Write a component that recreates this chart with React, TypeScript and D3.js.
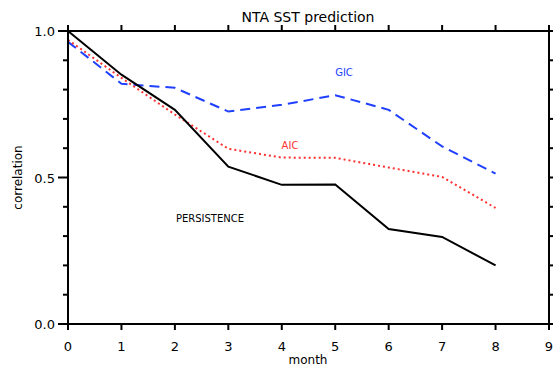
import React, { useEffect, useRef } from 'react';
import * as d3 from 'd3';

const months = [0, 1, 2, 3, 4, 5, 6, 7, 8];
const persistence = [1.0, 0.851, 0.731, 0.537, 0.475, 0.476, 0.324, 0.297, 0.2];
const gic = [0.963, 0.82, 0.806, 0.725, 0.748, 0.781, 0.731, 0.606, 0.513];
const aic = [0.97, 0.84, 0.715, 0.598, 0.568, 0.567, 0.534, 0.502, 0.396];
const xTicks = [0, 1, 2, 3, 4, 5, 6, 7, 8, 9];
const yMajor = [0, 0.5, 1.0];
const yMinor = d3.range(0, 1.01, 0.1);

const FONT = '"DejaVu Sans", sans-serif';

const App: React.FC = () => {
  const svgRef = useRef<SVGSVGElement>(null);

  useEffect(() => {
    if (!svgRef.current) return;
    const svg = d3.select(svgRef.current);
    svg.selectAll('*').remove();

    const left = 68, right = 549, top = 31, bottom = 324;
    const x = d3.scaleLinear().domain([0, 9]).range([left, right]);
    const y = d3.scaleLinear().domain([0, 1]).range([bottom, top]);

    // series
    const line = (vals: number[]) =>
      d3.line<number>().x((_, i) => x(months[i])).y(d => y(d))(vals) as string;

    svg.append('path').attr('d', line(gic)).attr('fill', 'none')
      .attr('stroke', '#2040ff').attr('stroke-width', 2).attr('stroke-dasharray', '10,6');
    svg.append('path').attr('d', line(aic)).attr('fill', 'none')
      .attr('stroke', '#ff3030').attr('stroke-width', 2).attr('stroke-dasharray', '2,3');
    svg.append('path').attr('d', line(persistence)).attr('fill', 'none')
      .attr('stroke', '#000').attr('stroke-width', 2);

    // frame
    svg.append('rect').attr('x', left).attr('y', top).attr('width', right - left).attr('height', bottom - top)
      .attr('fill', 'none').attr('stroke', '#000').attr('stroke-width', 2);

    // x ticks, top and bottom, outward
    xTicks.forEach(t => {
      svg.append('line').attr('x1', x(t)).attr('x2', x(t)).attr('y1', bottom).attr('y2', bottom + 6)
        .attr('stroke', '#000').attr('stroke-width', 2);
      svg.append('line').attr('x1', x(t)).attr('x2', x(t)).attr('y1', top).attr('y2', top - 6)
        .attr('stroke', '#000').attr('stroke-width', 2);
      svg.append('text').attr('x', x(t)).attr('y', bottom + 27).attr('text-anchor', 'middle')
        .attr('font-family', FONT).attr('font-size', 13).text(t);
    });

    // y ticks, left and right
    yMinor.forEach(t => {
      const major = yMajor.some(m => Math.abs(m - t) < 1e-6);
      const len = major ? 10 : 5;
      svg.append('line').attr('x1', left).attr('x2', left - len).attr('y1', y(t)).attr('y2', y(t))
        .attr('stroke', '#000').attr('stroke-width', 2);
      svg.append('line').attr('x1', right).attr('x2', right + len).attr('y1', y(t)).attr('y2', y(t))
        .attr('stroke', '#000').attr('stroke-width', 2);
    });
    yMajor.forEach(t => {
      svg.append('text').attr('x', left - 13).attr('y', y(t) + 5).attr('text-anchor', 'end')
        .attr('font-family', FONT).attr('font-size', 13).text(t.toFixed(1));
    });

    // titles
    svg.append('text').attr('x', 308).attr('y', 22).attr('text-anchor', 'middle')
      .attr('font-family', FONT).attr('font-size', 14).text('NTA SST prediction');
    svg.append('text').attr('x', 308).attr('y', 364).attr('text-anchor', 'middle')
      .attr('font-family', FONT).attr('font-size', 12).text('month');
    svg.append('text').attr('transform', `translate(22,${(top + bottom) / 2}) rotate(-90)`)
      .attr('text-anchor', 'middle').attr('font-family', FONT).attr('font-size', 12).text('correlation');

    // series labels
    svg.append('text').attr('x', 344).attr('y', 76).attr('text-anchor', 'middle')
      .attr('font-family', FONT).attr('font-size', 10).attr('fill', '#2040ff').text('GIC');
    svg.append('text').attr('x', 290).attr('y', 149).attr('text-anchor', 'middle')
      .attr('font-family', FONT).attr('font-size', 10).attr('fill', '#ff3030').text('AIC');
    svg.append('text').attr('x', 210).attr('y', 222).attr('text-anchor', 'middle')
      .attr('font-family', FONT).attr('font-size', 10).text('PERSISTENCE');
  }, []);

  return (
    <svg ref={svgRef} width={553} height={368}
      style={{ position: 'absolute', left: 0, top: 0, background: '#fff' }} />
  );
};

export default App;
